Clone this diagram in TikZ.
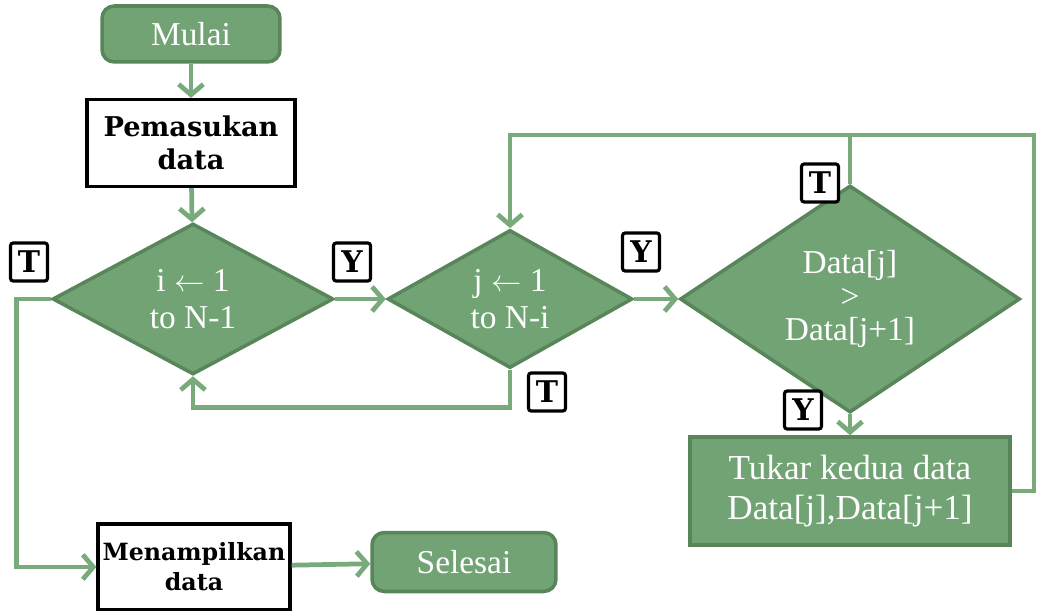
\documentclass[tikz,border=0pt]{standalone}
\usepackage{fontspec}
\setmainfont{Liberation Serif}
\newfontfamily\slabfont{DejaVu Serif}
\usetikzlibrary{arrows.meta, shapes.geometric, positioning}
\definecolor{flowfill}{RGB}{113,163,116}
\definecolor{flowedge}{RGB}{88,134,90}
\definecolor{flowline}{RGB}{121,170,124}
\tikzset{>={Straight Barb[length=6pt,width=14pt]}}

\begin{document}
\begin{tikzpicture}[x=0.02cm, y=-0.02cm,
    terminal/.style={rectangle, rounded corners=7pt, draw=flowedge, line width=2pt, fill=flowfill, text=white, font=\fontsize{19}{22}\selectfont},
    iobox/.style={rectangle, draw=black, line width=1.8pt, fill=white, align=center, inner sep=0pt, font=\slabfont\bfseries\fontsize{15.5}{19}\selectfont},
    decision/.style={diamond, draw=flowedge, line width=2pt, fill=flowfill, text=white, inner sep=0pt, align=center},
    process/.style={rectangle, draw=flowedge, line width=2pt, fill=flowfill, text=white, align=center, font=\fontsize{20}{23}\selectfont},
    answer/.style={rectangle, draw=black, line width=1.8pt, fill=white, rounded corners=1.5pt, minimum width=0.74cm, minimum height=0.76cm, inner sep=0pt, font=\slabfont\bfseries\fontsize{17}{18}\selectfont},
    flow/.style={draw=flowline, line width=2.7pt, ->},
    link/.style={draw=flowline, line width=2.7pt}]
    \useasboundingbox (0,0) rectangle (1038,611);

    % shapes
    \node[terminal, minimum width=3.56cm, minimum height=1.12cm] (mulai) at (191,34) {Mulai};
    \node[iobox, minimum width=4.16cm, minimum height=1.74cm] (input) at (191,143) {Pemasukan\\data};
    \node[decision, minimum width=5.62cm, minimum height=3.02cm, font=\fontsize{19}{21}\selectfont] (loopi) at (193,299) {i $\leftarrow$ 1\\to N-1};
    \node[decision, minimum width=4.9cm, minimum height=2.66cm, font=\fontsize{19}{21}\selectfont] (loopj) at (510,299) {j $\leftarrow$ 1\\to N-i};
    \node[decision, minimum width=6.8cm, minimum height=3.36cm, font=\fontsize{19}{19}\selectfont] (compare) at (850,299) {Data[j]\\>\\Data[j+1]};
    \node[process, minimum width=6.4cm, minimum height=2.16cm] (swap) at (850,491) {Tukar kedua data\\Data[j],Data[j+1]};
    \node[iobox, minimum width=3.84cm, minimum height=1.72cm, font=\slabfont\bfseries\fontsize{13.5}{17}\selectfont] (output) at (194,567) {Menampilkan\\data};
    \node[terminal, minimum width=3.68cm, minimum height=1.18cm] (selesai) at (464,562) {Selesai};

    % answers
    \node[answer] (ti) at (29,262) {T};
    \node[answer] (yi) at (352,262) {Y};
    \node[answer] (yj) at (641,252) {Y};
    \node[answer] (tc) at (820,183) {T};
    \node[answer] (yc) at (803,410) {Y};
    \node[answer] (tj) at (547,392) {T};

    % connectors
    \coordinate (corner) at (1034,135);
    \draw[flow] (mulai) -- (input);
    \draw[flow] (input) -- (loopi);
    \draw[flow] (loopi) -- (loopj);
    \draw[flow] (loopj) -- (compare);
    \draw[flow] (compare) -- (swap);
    \draw[flow] (loopj.south) -- ++(0,38) -| (loopi.south);
    \draw[flow] (loopi.west) -- ++(-34,0) |- (output.west);
    \draw[flow] (output) -- (selesai);
    \draw[flow] (swap.east) -| (corner) -| (loopj.north);
    \draw[link] (compare.north) -- (compare.north |- corner);
\end{tikzpicture}
\end{document}
